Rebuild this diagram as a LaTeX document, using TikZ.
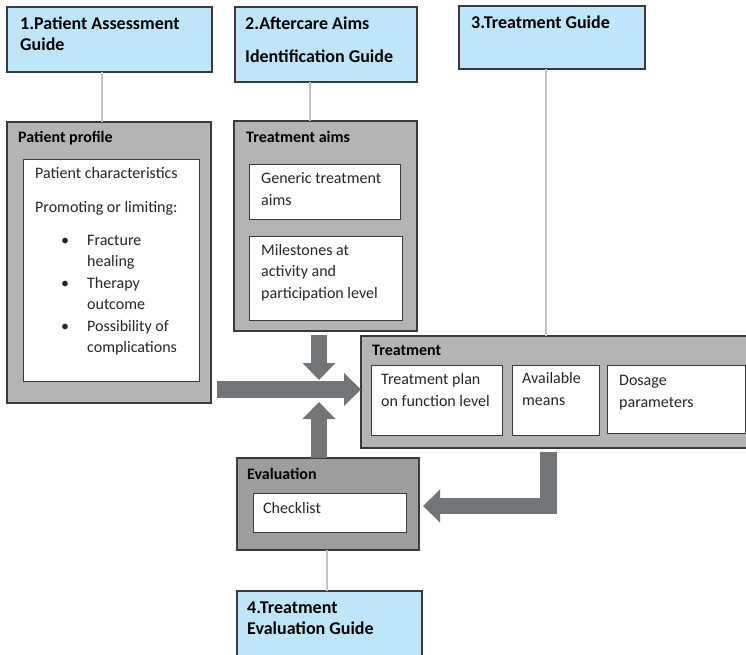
\documentclass[tikz,border=0pt]{standalone}
\usepackage{fontspec}
\setmainfont{Carlito}
\usetikzlibrary{arrows.meta,positioning}

\definecolor{guideblue}{HTML}{BFE6F8}
\definecolor{panelgray}{HTML}{B3B5B5}
\definecolor{evalgray}{HTML}{9C9E9E}
\definecolor{flowgray}{HTML}{727577}
\definecolor{linkgray}{HTML}{C3C3C3}
\definecolor{edgegray}{HTML}{3A3A3A}
\definecolor{inkgray}{HTML}{262626}

\newcommand{\bodysize}{\fontsize{16}{21.5}\selectfont}
\newcommand{\guidesize}{\fontsize{18}{21}\selectfont}
\newcommand{\bul}[1]{\makebox[52pt][l]{\hspace*{26pt}\textbullet}#1}
\newcommand{\cont}[1]{\hspace*{52pt}#1}

\begin{document}
\begin{tikzpicture}[x=1pt,y=-1pt]
		\tikzstyle{Box}		= [rectangle, anchor=north west, inner sep=0pt, outer sep=0pt, draw=edgegray, line width=1.1pt]
		\tikzstyle{Guide}	= [Box, fill=guideblue]
		\tikzstyle{Panel}	= [Box, fill=panelgray]
		\tikzstyle{EvalPanel}	= [Box, fill=evalgray]
		\tikzstyle{Card}	= [Box, fill=white, line width=1pt]
		\tikzstyle{Head}	= [anchor=base west, inner sep=0pt, align=left, font=\bodysize\bfseries, text=black]
		\tikzstyle{GuideHead}	= [Head, font=\guidesize\bfseries]
		\tikzstyle{Body}	= [anchor=base west, inner sep=0pt, align=left, font=\bodysize, text=inkgray]
		\tikzstyle{Link}	= [linkgray, line width=2.5pt]
		\tikzstyle{Flow}	= [flowgray, line width=16.5pt, line join=miter, -{Triangle[width=32pt,length=17pt]}]

		\useasboundingbox (0,0) rectangle (746,654);

		% guides (text nodes sit on the baseline of their last line)
		\node (g1) at (7,7) [Guide, minimum width=205pt, minimum height=65pt] {};
		\node (g2) at (235,7) [Guide, minimum width=182pt, minimum height=75pt] {};
		\node (g3) at (459,6) [Guide, minimum width=186pt, minimum height=63pt] {};
		\node (g4) at (237,591) [Guide, minimum width=185pt, minimum height=75pt] {};
		\node (g1T) at (20,50) [GuideHead] {1.Patient Assessment\\Guide};
		\node (g2T) at (245,62) [GuideHead] {2.Aftercare Aims\\[12pt]Identification Guide};
		\node (g3T) at (471,28) [GuideHead] {3.Treatment Guide};
		\node (g4T) at (247,634) [GuideHead] {4.Treatment\\Evaluation Guide};

		% panels
		\node (profile) at (7,122) [Panel, minimum width=204pt, minimum height=281pt] {};
		\node (aims) at (234,121) [Panel, minimum width=183pt, minimum height=210pt] {};
		\node (treat) at (361,336) [Panel, minimum width=400pt, minimum height=112pt] {};
		\node (eval) at (237,458) [EvalPanel, minimum width=182pt, minimum height=92pt] {};
		\node (profileT) at (18,142) [Head] {Patient profile};
		\node (aimsT) at (246,142) [Head] {Treatment aims};
		\node (treatT) at (372,355) [Head] {Treatment};
		\node (evalT) at (247,479) [Head] {Evaluation};

		% cards
		\node (chars) at (23,159) [Card, minimum width=176pt, minimum height=222pt] {};
		\node (generic) at (249,164) [Card, minimum width=151pt, minimum height=55pt] {};
		\node (miles) at (249,236) [Card, minimum width=153pt, minimum height=84pt] {};
		\node (plan) at (371,365) [Card, minimum width=131pt, minimum height=70pt] {};
		\node (means) at (512,365) [Card, minimum width=87pt, minimum height=70pt] {};
		\node (dosage) at (607,365) [Card, minimum width=138pt, minimum height=68pt] {};
		\node (check) at (253,493) [Card, minimum width=153pt, minimum height=39pt] {};

		\node (charsT) at (35,352.5) [Body] {Patient characteristics\\[12.5pt]
			Promoting or limiting:\\[11.5pt]
			\bul{Fracture}\\ \cont{healing}\\
			\bul{Therapy}\\ \cont{outcome}\\
			\bul{Possibility of}\\ \cont{complications}};
		\node (genericT) at (261,205) [Body] {Generic treatment\\aims};
		\node (milesT) at (261,298) [Body] {Milestones at\\activity and\\participation level};
		\node (planT) at (381,406) [Body] {Treatment plan\\on function level};
		\node (meansT) at (522,405) [Body] {Available\\means};
		\node (dosageT) at (619,407) [Body] {Dosage\\parameters};
		\node (checkT) at (263,513) [Body] {Checklist};

		% thin links
		\coordinate (x1) at (102,0);
		\coordinate (x2) at (310,0);
		\coordinate (x3) at (546,0);
		\coordinate (x4) at (327,0);
		\draw [Link] (g1.south -| x1) to (profile.north -| x1);
		\draw [Link] (g2.south -| x2) to (aims.north -| x2);
		\draw [Link] (g3.south -| x3) to (treat.north -| x3);
		\draw [Link] (eval.south -| x4) to (g4.north -| x4);

		% flow arrows
		\coordinate (hub) at (319,389.5);
		\coordinate (bend) at (548.5,506);
		\draw [Flow, shorten <=6pt] (profile.east |- hub) to (treat.west |- hub);
		\draw [Flow, shorten <=4pt, shorten >=9.5pt] (aims.south -| hub) to (hub);
		\draw [Flow, shorten >=12.5pt] (eval.north -| hub) to (hub);
		\draw [Flow, shorten <=4pt, shorten >=4pt] (treat.south -| bend) -- (bend) -- (eval.east |- bend);
	\end{tikzpicture}
\end{document}
